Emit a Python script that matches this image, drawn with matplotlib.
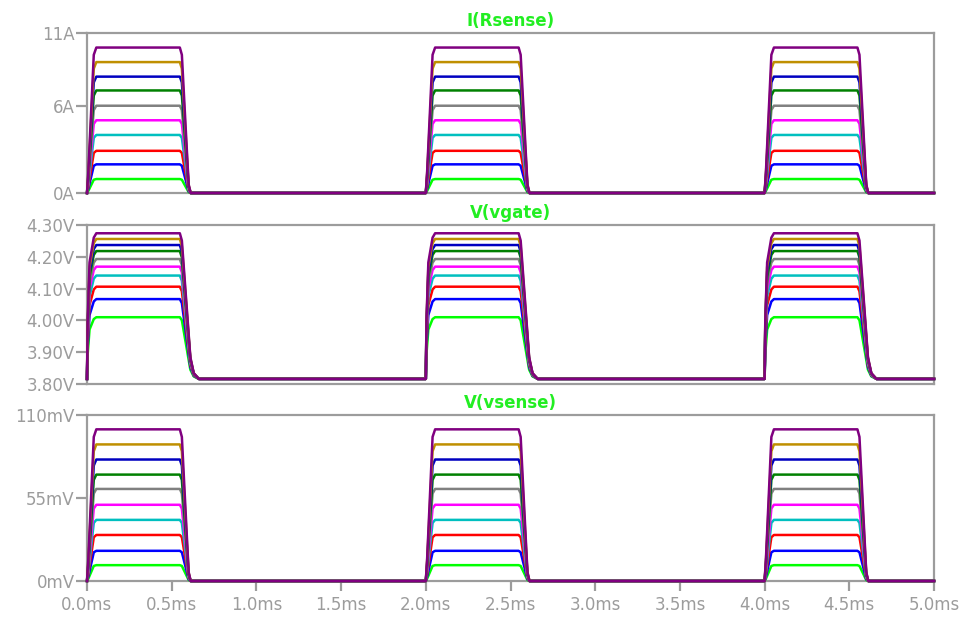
import numpy as np
import matplotlib
matplotlib.use("Agg")
import matplotlib.pyplot as plt

# ── Data (LTspice step sweep, 10 traces) ─────────────────────────────────
trace_colors = ['#00ff00', '#0000ff', '#ff0000', '#00bfbf', '#ff00ff',
                '#808080', '#008000', '#0000c0', '#bf8f00', '#800080']

i_levels      = [0.96, 1.97, 2.90, 3.99, 5.00, 6.00, 7.05, 8.00, 9.00, 10.00]   # A
vgate_levels  = [4.010, 4.067, 4.106, 4.141, 4.169, 4.193, 4.218, 4.237, 4.256, 4.274]  # V
vsense_levels = [10.5, 20.0, 30.5, 40.5, 50.5, 61.0, 70.5, 80.5, 90.5, 100.5]  # mV
vgate_low = 3.816

pulse_starts = [0.0, 2.0, 4.0]   # ms
t_end = 5.0

# normalised pulse shape (time offset in ms, fraction of level)
i_shape_t = [0.0, 0.008, 0.040, 0.055, 0.548, 0.560, 0.600, 0.612]
i_shape_f = [0.0, 0.15, 0.95, 1.00, 1.00, 0.95, 0.06, 0.00]

g_shape_t = [0.0, 0.004, 0.015, 0.040, 0.055, 0.548, 0.560, 0.610, 0.630, 0.660]
g_shape_f = [0.0, 0.40, 0.80, 0.97, 1.00, 1.00, 0.95, 0.15, 0.04, 0.00]

x_ticks = [0.0, 0.5, 1.0, 1.5, 2.0, 2.5, 3.0, 3.5, 4.0, 4.5, 5.0]


def build(shape_t, shape_f):
    t, f = [], []
    for s in pulse_starts:
        t += [s + v for v in shape_t]
        f += shape_f
    t.append(t_end)
    f.append(0.0)
    return np.array(t), np.array(f)


ti, fi = build(i_shape_t, i_shape_f)
tg, fg = build(g_shape_t, g_shape_f)

# ── Style ────────────────────────────────────────────────────────────────
GRAY = '#9c9c9c'
TITLE_GREEN = '#22ee22'
plt.rcParams['font.family'] = ['DejaVu Sans']

fig = plt.figure(figsize=(9.63, 6.18), dpi=100)
W, H = 963, 618
left, right = 87, 934


def make_ax(top, bottom):
    return fig.add_axes([left / W, 1 - bottom / H, (right - left) / W, (bottom - top) / H])


ax_i = make_ax(33, 193)
ax_g = make_ax(225, 384)
ax_s = make_ax(415, 581)

for ax in (ax_i, ax_g, ax_s):
    ax.set_xlim(0, t_end)
    for sp in ax.spines.values():
        sp.set_color(GRAY)
        sp.set_linewidth(1.6)
        sp.set_zorder(1)
    ax.tick_params(axis='y', colors=GRAY, length=8, width=1.6, pad=1, labelsize=12)
    ax.tick_params(axis='x', colors=GRAY, length=7, width=1.6, pad=4, labelsize=12)
    ax.set_xticks(x_ticks)

for ax in (ax_i, ax_g):
    ax.tick_params(axis='x', bottom=False, labelbottom=False)

# ── Traces ───────────────────────────────────────────────────────────────
for k, c in enumerate(trace_colors):
    ax_i.plot(ti, fi * i_levels[k], color=c, lw=1.8, zorder=3, clip_on=False)
    ax_g.plot(tg, vgate_low + fg * (vgate_levels[k] - vgate_low), color=c, lw=1.8, zorder=3, clip_on=False)
    ax_s.plot(ti, fi * vsense_levels[k], color=c, lw=1.8, zorder=3, clip_on=False)

# ── Axes / labels ────────────────────────────────────────────────────────
ax_i.set_ylim(0, 11)
ax_i.set_yticks([0, 6, 11])
ax_i.set_yticklabels(['0A', '6A', '11A'])

ax_g.set_ylim(3.80, 4.30)
g_ticks = [3.80, 3.90, 4.00, 4.10, 4.20, 4.30]
ax_g.set_yticks(g_ticks)
ax_g.set_yticklabels([f'{v:.2f}V' for v in g_ticks])

ax_s.set_ylim(0, 110)
ax_s.set_yticks([0, 55, 110])
ax_s.set_yticklabels(['0mV', '55mV', '110mV'])
ax_s.set_xticklabels([f'{v:.1f}ms' for v in x_ticks])

for ax, title in ((ax_i, 'I(Rsense)'), (ax_g, 'V(vgate)'), (ax_s, 'V(vsense)')):
    ax.set_title(title, color=TITLE_GREEN, fontsize=12, fontweight='bold', pad=5)

fig.savefig('out.png', dpi=100)
